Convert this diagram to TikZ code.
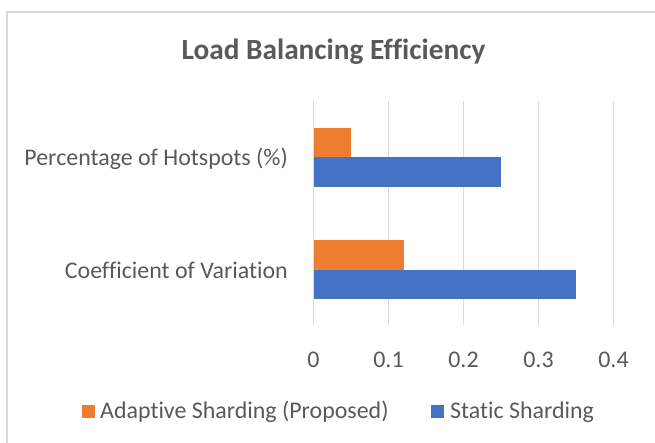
\documentclass[tikz,border=0pt]{standalone}
\usepackage{fontspec}
\setmainfont{Carlito}[Ligatures=NoCommon]
\definecolor{txtgray}{HTML}{595959}
\definecolor{gridgray}{HTML}{D9D9D9}
\definecolor{adaptive}{HTML}{ED7D31}
\definecolor{static}{HTML}{4472C4}
\begin{document}
\begin{tikzpicture}[x=1bp,y=-1bp,
  lbl/.style={text=txtgray,font=\fontsize{24}{26}\selectfont,inner sep=0pt},
  gridline/.style={draw=gridgray,line width=1.5bp},
  barA/.style={fill=adaptive,draw=none},
  barS/.style={fill=static,draw=none},
  swatch/.style={minimum size=13bp,inner sep=0pt,draw=none}]
\useasboundingbox (0,0) rectangle (655,443);
% chart frame (runs past the right and bottom edges)
\begin{scope}
  \clip (0,0) rectangle (655,443);
  \draw[draw=gridgray,line width=1.5bp] (7,12) rectangle (670,460);
\end{scope}
% title
\node[text=txtgray,font=\bfseries\fontsize{29.4}{32}\selectfont,inner sep=0pt,anchor=base] (title) at (333.5,60) {Load Balancing Efficiency};
% vertical grid lines and tick labels
\foreach \v/\t [count=\i] in {0/0,1/0.1,2/0.2,3/0.3,4/0.4}{
  \coordinate (gt\i) at ({313.5+75*\v},101);
  \coordinate (gb\i) at ({313.5+75*\v},325);
  \draw[gridline] (gt\i) -- (gb\i);
  \node[lbl,anchor=base] (tick\i) at ({313.5+75*\v},367) {\t};
}
% bars: x = 313.5 + 750*value
\fill[barA] (313.5,127.7) rectangle ({313.5+750*0.05},157.3);
\fill[barS] (313.5,157.3) rectangle ({313.5+750*0.25},186.7);
\fill[barA] (313.5,240.3) rectangle ({313.5+750*0.12},270);
\fill[barS] (313.5,270) rectangle ({313.5+750*0.35},299.3);
% category labels
\node[lbl,anchor=base east] (cat1) at (288,166) {Percentage of Hotspots (\%)};
\node[lbl,anchor=base east] (cat2) at (288,279) {Coefficient of Variation};
% legend
\node[swatch,fill=adaptive] (swA) at (88.5,411) {};
\node[lbl,anchor=base west] (legA) at (100,418) {Adaptive Sharding (Proposed)};
\node[swatch,fill=static] (swS) at (437.5,411) {};
\node[lbl,anchor=base west] (legS) at (450,418) {Static Sharding};
\end{tikzpicture}
\end{document}
